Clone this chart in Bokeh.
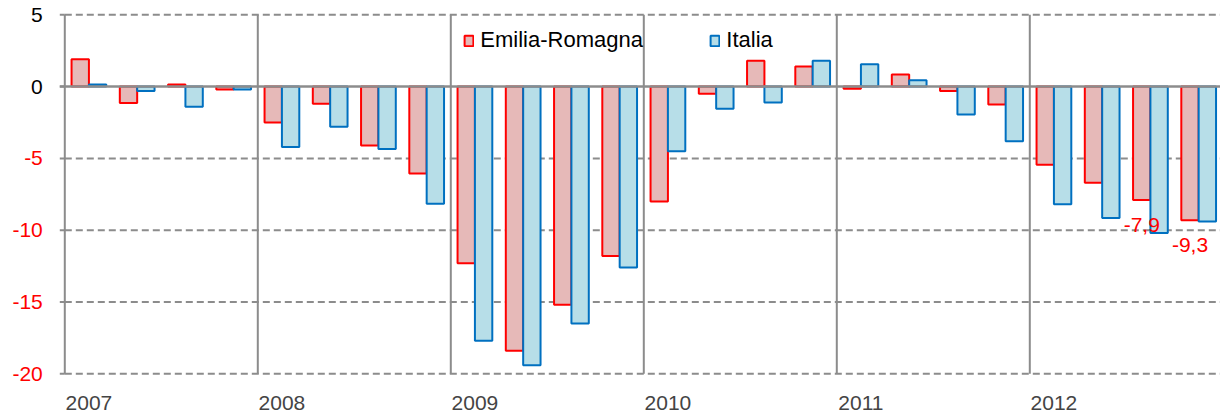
from bokeh.plotting import figure
from bokeh.models import (Range1d, FixedTicker, Legend, LegendItem,
                          LabelSet, ColumnDataSource)
from bokeh.embed import file_html
from bokeh.resources import INLINE
from bokeh.core.properties import value

# ---------------- data ----------------
years = ["2007", "2008", "2009", "2010", "2011", "2012"]
emilia = [1.9, -1.15, 0.15, -0.2,
          -2.5, -1.2, -4.1, -6.05,
          -12.3, -18.4, -15.2, -11.8,
          -8.0, -0.5, 1.8, 1.4,
          -0.15, 0.85, -0.3, -1.25,
          -5.45, -6.7, -7.9, -9.3]
italia = [0.15, -0.3, -1.4, -0.2,
          -4.2, -2.8, -4.35, -8.15,
          -17.7, -19.4, -16.5, -12.6,
          -4.5, -1.55, -1.1, 1.8,
          1.55, 0.45, -1.95, -3.8,
          -8.2, -9.15, -10.2, -9.4]
y_ticks = [5, 0, -5, -10, -15, -20]
y_tick_labels = ["5", "0", "-5", "-10", "-15", "-20"]
y_tick_colors = ["black", "black", "#FF0000", "#FF0000", "#FF0000", "#FF0000"]
label_quarters = [22, 23]
label_texts = ["-7,9", "-9,3"]

FONT = "Liberation Sans"
FS = "21px"
GRAY = "#8c8c8c"
ER_FILL, ER_LINE = "#E6B9B8", "#FF0000"
IT_FILL, IT_LINE = "#B7DEE8", "#0070C0"

W, H = 1220, 419
PX_PER_Q = 48.25            # pixel width of one quarter
LEFT_PX = 64.3              # where the y axis sits inside the frame
X0 = -LEFT_PX / PX_PER_Q
X1 = (W - LEFT_PX) / PX_PER_Q
TICK = 5 / PX_PER_Q

PX_PER_U = 14.36            # pixels per y unit
TOP_PX = 14.3               # position of y=5 from the top
BOTTOM_BORDER = 34
Y_TOP = max(y_ticks) + TOP_PX / PX_PER_U
Y_BOT = Y_TOP - (H - BOTTOM_BORDER) / PX_PER_U
Y_MIN, Y_MAX = min(y_ticks), max(y_ticks)

n = len(emilia)
q = list(range(n))
bw = 0.36
src = ColumnDataSource(dict(
    x_er=[i + 0.5 - bw / 2 for i in q],
    x_it=[i + 0.5 + bw / 2 for i in q],
    er=emilia, it=italia))

p = figure(width=W, height=H, output_backend="svg", toolbar_location=None,
           x_range=Range1d(X0, X1), y_range=Range1d(Y_BOT, Y_TOP),
           min_border_left=0, min_border_right=0, min_border_top=0,
           min_border_bottom=BOTTOM_BORDER)
p.outline_line_color = None
p.background_fill_color = "white"
p.border_fill_color = "white"
p.yaxis.visible = False
p.ygrid.visible = False
p.xgrid.visible = False

# vertical year separators (x=0 is the y-axis line)
year_x = [4 * k for k in range(len(years))]
p.segment(x0=year_x, x1=year_x, y0=[Y_MIN] * len(year_x), y1=[Y_MAX] * len(year_x),
          line_color=GRAY, line_width=2)

# horizontal dashed gridlines, from the axis to the right edge
grid_y = [t for t in y_ticks if t != 0]
p.segment(x0=[0] * len(grid_y), x1=[X1] * len(grid_y), y0=grid_y, y1=grid_y,
          line_color=GRAY, line_width=2, line_dash="7 4")
# tick marks
p.segment(x0=[-TICK] * len(y_ticks), x1=[0] * len(y_ticks), y0=y_ticks, y1=y_ticks,
          line_color=GRAY, line_width=2)

er_r = p.vbar(x="x_er", top="er", bottom=0, width=bw, source=src,
              fill_color=ER_FILL, line_color=ER_LINE, line_width=2)
it_r = p.vbar(x="x_it", top="it", bottom=0, width=bw, source=src,
              fill_color=IT_FILL, line_color=IT_LINE, line_width=2)

# zero line
p.segment(x0=[-TICK], x1=[X1], y0=[0], y1=[0], line_color=GRAY, line_width=2.5)

# y tick labels (coloured individually)
p.text(x=[0] * len(y_ticks), y=y_ticks, text=y_tick_labels,
       text_color=y_tick_colors, x_offset=-22, text_align="right",
       text_baseline="middle", text_font=value(FONT), text_font_size=FS)

# x axis (year labels under first quarter of each year)
xa = p.xaxis[0]
xa.ticker = FixedTicker(ticks=[4 * k + 0.5 for k in range(len(years))])
xa.major_label_overrides = {4 * k + 0.5: y for k, y in enumerate(years)}
xa.major_label_text_font = FONT
xa.major_label_text_font_size = FS
xa.major_label_standoff = 4
xa.axis_line_color = None
xa.major_tick_line_color = None
xa.minor_tick_line_color = None

# data labels
lsrc = ColumnDataSource(dict(
    x=[src.data["x_er"][i] for i in label_quarters],
    y=[emilia[i] for i in label_quarters],
    t=label_texts))
p.add_layout(LabelSet(x="x", y="y", text="t", source=lsrc, y_offset=-18,
                      text_align="center", text_baseline="top",
                      text_color="#FF0000", text_font=value(FONT),
                      text_font_size=FS))

# legends
def mk_legend(label, r, xloc):
    lg = Legend(items=[LegendItem(label=label, renderers=[r])],
                location=(xloc, 332), orientation="horizontal",
                glyph_width=11, glyph_height=13, label_standoff=6,
                padding=0, margin=0, spacing=0,
                border_line_color=None, background_fill_alpha=0,
                label_text_font=FONT, label_text_font_size="22px",
                label_text_color="black", label_height=13)
    p.add_layout(lg, "center")

mk_legend("Emilia-Romagna", er_r, 399 + LEFT_PX)
mk_legend("Italia", it_r, 645 + LEFT_PX)

open("out.html", "w").write(file_html(p, INLINE))
